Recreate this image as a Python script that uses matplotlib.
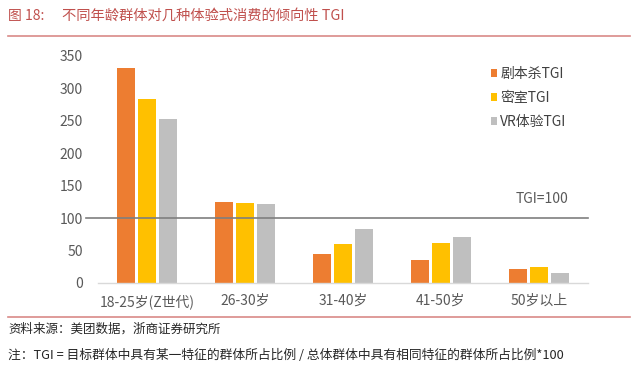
import matplotlib
matplotlib.use("Agg")
import matplotlib.pyplot as plt
import numpy as np
from matplotlib.patches import Patch
from matplotlib.lines import Line2D

plt.rcParams['font.family'] = ['Noto Sans CJK SC', 'DejaVu Sans']

categories = ["18-25岁(Z世代)", "26-30岁", "31-40岁", "41-50岁", "50岁以上"]
series_names = ["剧本杀TGI", "密室TGI", "VR体验TGI"]
jubensha = [331, 125, 44, 35, 21]
mishi = [283, 123, 60, 61, 24]
vr = [253, 122, 84, 71, 16]
values = [jubensha, mishi, vr]
colors = ["#ED7D31", "#FFC000", "#BFBFBF"]
yticks = [0, 50, 100, 150, 200, 250, 300, 350]

fig = plt.figure(figsize=(6.4, 3.67), dpi=100)
ax = fig.add_axes([98/640, 1-283/367, 490/640, 227/367])

x = np.arange(len(categories))
w = 0.175
step = 0.215
for i, (vals, c) in enumerate(zip(values, colors)):
    ax.bar(x + (i-1)*step, vals, width=w, color=c, zorder=2)

ax.set_xlim(-0.5, 4.5)
ax.set_ylim(0, 350)
ax.set_yticks(yticks)
ax.set_xticks(x)
ax.set_xticklabels(categories)
for s in ['top', 'right', 'left']:
    ax.spines[s].set_visible(False)
ax.spines['bottom'].set_color('#D9D9D9')
ax.spines['bottom'].set_linewidth(1.0)
ax.tick_params(axis='both', length=0, labelsize=10, colors='#595959')
ax.tick_params(axis='x', pad=8)
ax.tick_params(axis='y', pad=11)

ax.axhline(100, xmin=-0.025, xmax=1.0, color='#7F7F7F', lw=1.2, clip_on=False, zorder=3)
ax.text(0.96, 118, "TGI=100", transform=ax.get_yaxis_transform(), ha='right', va='bottom',
        fontsize=10, color='#595959')

handles = [Patch(facecolor=c, edgecolor='none') for c in colors]
leg = fig.legend(handles, series_names, loc='upper left', bbox_to_anchor=(478/640, 1-54/367),
                 frameon=False, handlelength=0.5, handleheight=0.5, handletextpad=0.2,
                 labelspacing=0.75, fontsize=10)
for t in leg.get_texts():
    t.set_color('#404040')

# title and decorations
red = '#C0504D'
fig.text(8/640, 1-16/367, "图 18:", color=red, fontsize=10, va='center', ha='left')
fig.text(62/640, 1-16/367, "不同年龄群体对几种体验式消费的倾向性 TGI", color=red,
         fontsize=10.3, va='center', ha='left')
fig.add_artist(Line2D([8/640, 630/640], [1-36/367, 1-36/367], color='#D98A88', lw=1.2))
fig.add_artist(Line2D([8/640, 630/640], [1-317/367, 1-317/367], color='#D98A88', lw=1.2))
fig.text(8/640, 1-329/367, "资料来源：美团数据，浙商证券研究所", color='#262626',
         fontsize=9, va='center', ha='left')
fig.text(8/640, 1-355/367, "注：TGI = 目标群体中具有某一特征的群体所占比例 / 总体群体中具有相同特征的群体所占比例*100",
         color='#262626', fontsize=9.2, va='center', ha='left')

fig.savefig("out.png", dpi=100)
